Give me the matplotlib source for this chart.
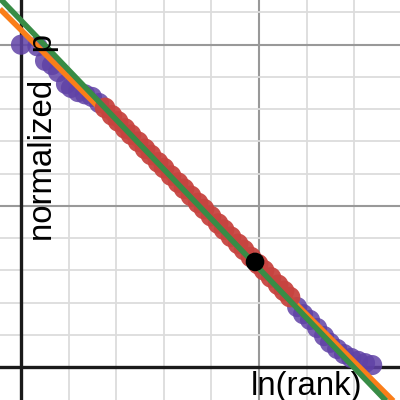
import numpy as np
import matplotlib
matplotlib.use("Agg")
import matplotlib.pyplot as plt

plt.rcParams['font.family'] = ['Liberation Sans', 'DejaVu Sans']

# ---- data ----
purple_x = [0.00, 0.69, 1.01, 1.30, 1.56, 1.89, 2.10, 2.40, 2.69, 2.98, 3.28,
            11.60, 11.85, 12.14, 12.44, 12.73, 12.98, 13.28, 13.57, 13.87, 14.16, 14.45, 14.75]
purple_y = [1.000, 0.995, 0.950, 0.937, 0.915, 0.878, 0.866, 0.853, 0.846, 0.838, 0.819,
            0.186, 0.164, 0.146, 0.121, 0.096, 0.075, 0.056, 0.040, 0.028, 0.019, 0.012, 0.006]

red_x = [3.53, 3.82, 4.08, 4.37, 4.62, 4.92, 5.21, 5.46, 5.76, 6.01, 6.30, 6.60, 6.85,
         7.14, 7.44, 7.69, 7.98, 8.28, 8.53, 8.82, 9.12, 9.37, 9.66, 9.96, 10.21, 10.50,
         10.80, 11.05, 11.30]
red_y = [0.804, 0.781, 0.762, 0.740, 0.721, 0.699, 0.677, 0.658, 0.635, 0.617, 0.594,
         0.572, 0.553, 0.531, 0.509, 0.490, 0.468, 0.445, 0.426, 0.404, 0.382, 0.363,
         0.341, 0.319, 0.300, 0.278, 0.255, 0.236, 0.217]

black_x = [9.83]
black_y = [0.326]

green_slope, green_intercept = -0.0770, 1.0755
orange_slope, orange_intercept = -0.0736, 1.0458

x_label = "ln(rank)"
y_label = "normalized   p"

# ---- figure ----
fig = plt.figure(figsize=(4, 4), dpi=100)
ax = fig.add_axes([0, 0, 1, 1])
xmin, xmax = -0.882, 15.92
ymin, ymax = -0.1024, 1.1387
ax.set_xlim(xmin, xmax)
ax.set_ylim(ymin, ymax)
for s in ax.spines.values():
    s.set_visible(False)
ax.set_xticks([])
ax.set_yticks([])

# grid
for gx in np.arange(2, 16, 2):
    major = (gx % 10 == 0)
    ax.axvline(gx, color='#999999' if major else '#dcdcdc', lw=1.5 if major else 1.3, zorder=0)
for gy in np.arange(0.1, 1.15, 0.1):
    major = abs(round(gy * 10) % 5) == 0
    ax.axhline(gy, color='#999999' if major else '#dcdcdc', lw=1.5 if major else 1.3, zorder=0)
ax.axvline(0, color='#1a1a1a', lw=2.4, zorder=1)
ax.axhline(0, color='#1a1a1a', lw=2.4, zorder=1)

ax.scatter(purple_x, purple_y, s=210, color='#6042a6', alpha=0.85, edgecolors='none', zorder=2)

xs = np.array([xmin, xmax])
ax.plot(xs, orange_intercept + orange_slope * xs, color='#fa7e19', lw=4, zorder=3, solid_capstyle='butt')

ax.scatter(red_x, red_y, s=220, color='#c74440', alpha=0.95, edgecolors='none', zorder=4)

ax.plot(xs, green_intercept + green_slope * xs, color='#388c46', lw=4, zorder=5, solid_capstyle='butt')

ax.scatter(black_x, black_y, s=180, color='black', edgecolors='none', zorder=6)

fig.text(59 / 400, 1 - 241 / 400, y_label, rotation=90, ha='right', va='bottom',
         fontsize=23.8, color='black', zorder=7)
fig.text(251 / 400, 1 - 371 / 400, x_label, ha='left', va='top',
         fontsize=23.8, color='black', zorder=7)

fig.savefig('out.png', dpi=100)
